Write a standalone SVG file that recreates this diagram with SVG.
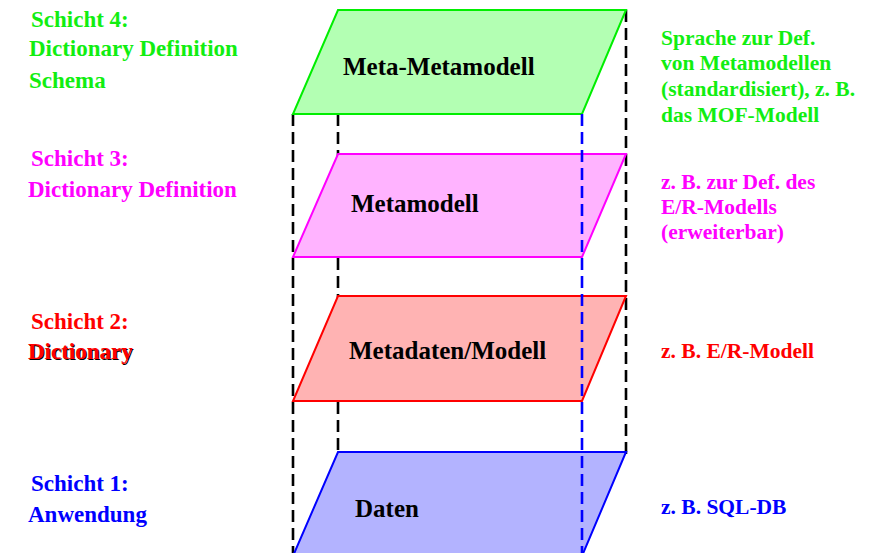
<svg xmlns="http://www.w3.org/2000/svg" width="875" height="553" viewBox="0 0 875 553">
<style>
text{font-family:"Liberation Serif","Times New Roman",serif;font-weight:bold}
.lbl{font-size:23px}
.note{font-size:21.5px}
.ctr{font-size:25px;fill:#000}
.dk{stroke:#000;stroke-width:2.6;stroke-dasharray:12 6;fill:none}
.db{stroke:#0000ff;stroke-width:2.6;stroke-dasharray:12 6;fill:none}
.g{fill:#11ee11}.m{fill:#ff00ff}.r{fill:#ff0000}.b{fill:#0000ff}
</style>
<rect width="875" height="553" fill="#fff"/>
<g id="connectors-back">
<line class="dk" x1="293" y1="114" x2="293" y2="553"/>
<line class="dk" x1="338" y1="114" x2="338" y2="452"/>
<line class="dk" x1="626" y1="10" x2="626" y2="459"/>
</g>
<g id="layer4">
<polygon points="338,10 626,10 582,114 293,114" fill="#b3ffb3" stroke="#00ee00" stroke-width="2"/>
<text class="ctr" x="343" y="75">Meta-Metamodell</text>
<text class="lbl g" x="31" y="27">Schicht 4:</text>
<text class="lbl g" x="29" y="56">Dictionary Definition</text>
<text class="lbl g" x="29" y="88">Schema</text>
<text class="note g" x="661" y="45">Sprache zur Def.</text>
<text class="note g" x="661" y="70">von Metamodellen</text>
<text class="note g" x="661" y="96">(standardisiert), z. B.</text>
<text class="note g" x="661" y="122">das MOF-Modell</text>
</g>
<g id="layer3">
<polygon points="338,154 626,154 582,257 293,257" fill="#ffb3ff" stroke="#ff00ff" stroke-width="2"/>
<text class="ctr" x="351" y="212">Metamodell</text>
<text class="lbl m" x="31" y="166">Schicht 3:</text>
<text class="lbl m" x="28" y="197">Dictionary Definition</text>
<text class="note m" x="661" y="189">z. B. zur Def. des</text>
<text class="note m" x="661" y="214">E/R-Modells</text>
<text class="note m" x="661" y="239">(erweiterbar)</text>
</g>
<g id="layer2">
<polygon points="338,296 626,296 582,401 293,401" fill="#ffb3b3" stroke="#ff0000" stroke-width="2"/>
<text class="ctr" x="349" y="359">Metadaten/Modell</text>
<text class="lbl r" x="31" y="329">Schicht 2:</text>
<text class="lbl" x="29" y="360" fill="#000">Dictionary</text>
<text class="lbl r" x="28" y="359">Dictionary</text>
<text class="note r" x="661" y="358">z. B. E/R-Modell</text>
</g>
<g id="layer1">
<polygon points="338,452 626,452 582,556 293,556" fill="#b3b3ff" stroke="#0000ff" stroke-width="2"/>
<text class="ctr" x="355" y="517">Daten</text>
<text class="lbl b" x="31" y="491">Schicht 1:</text>
<text class="lbl b" x="28" y="522">Anwendung</text>
<text class="note b" x="661" y="514">z. B. SQL-DB</text>
</g>
<g id="connectors-front">
<line class="db" x1="582" y1="114" x2="582" y2="553"/>
</g>
</svg>
